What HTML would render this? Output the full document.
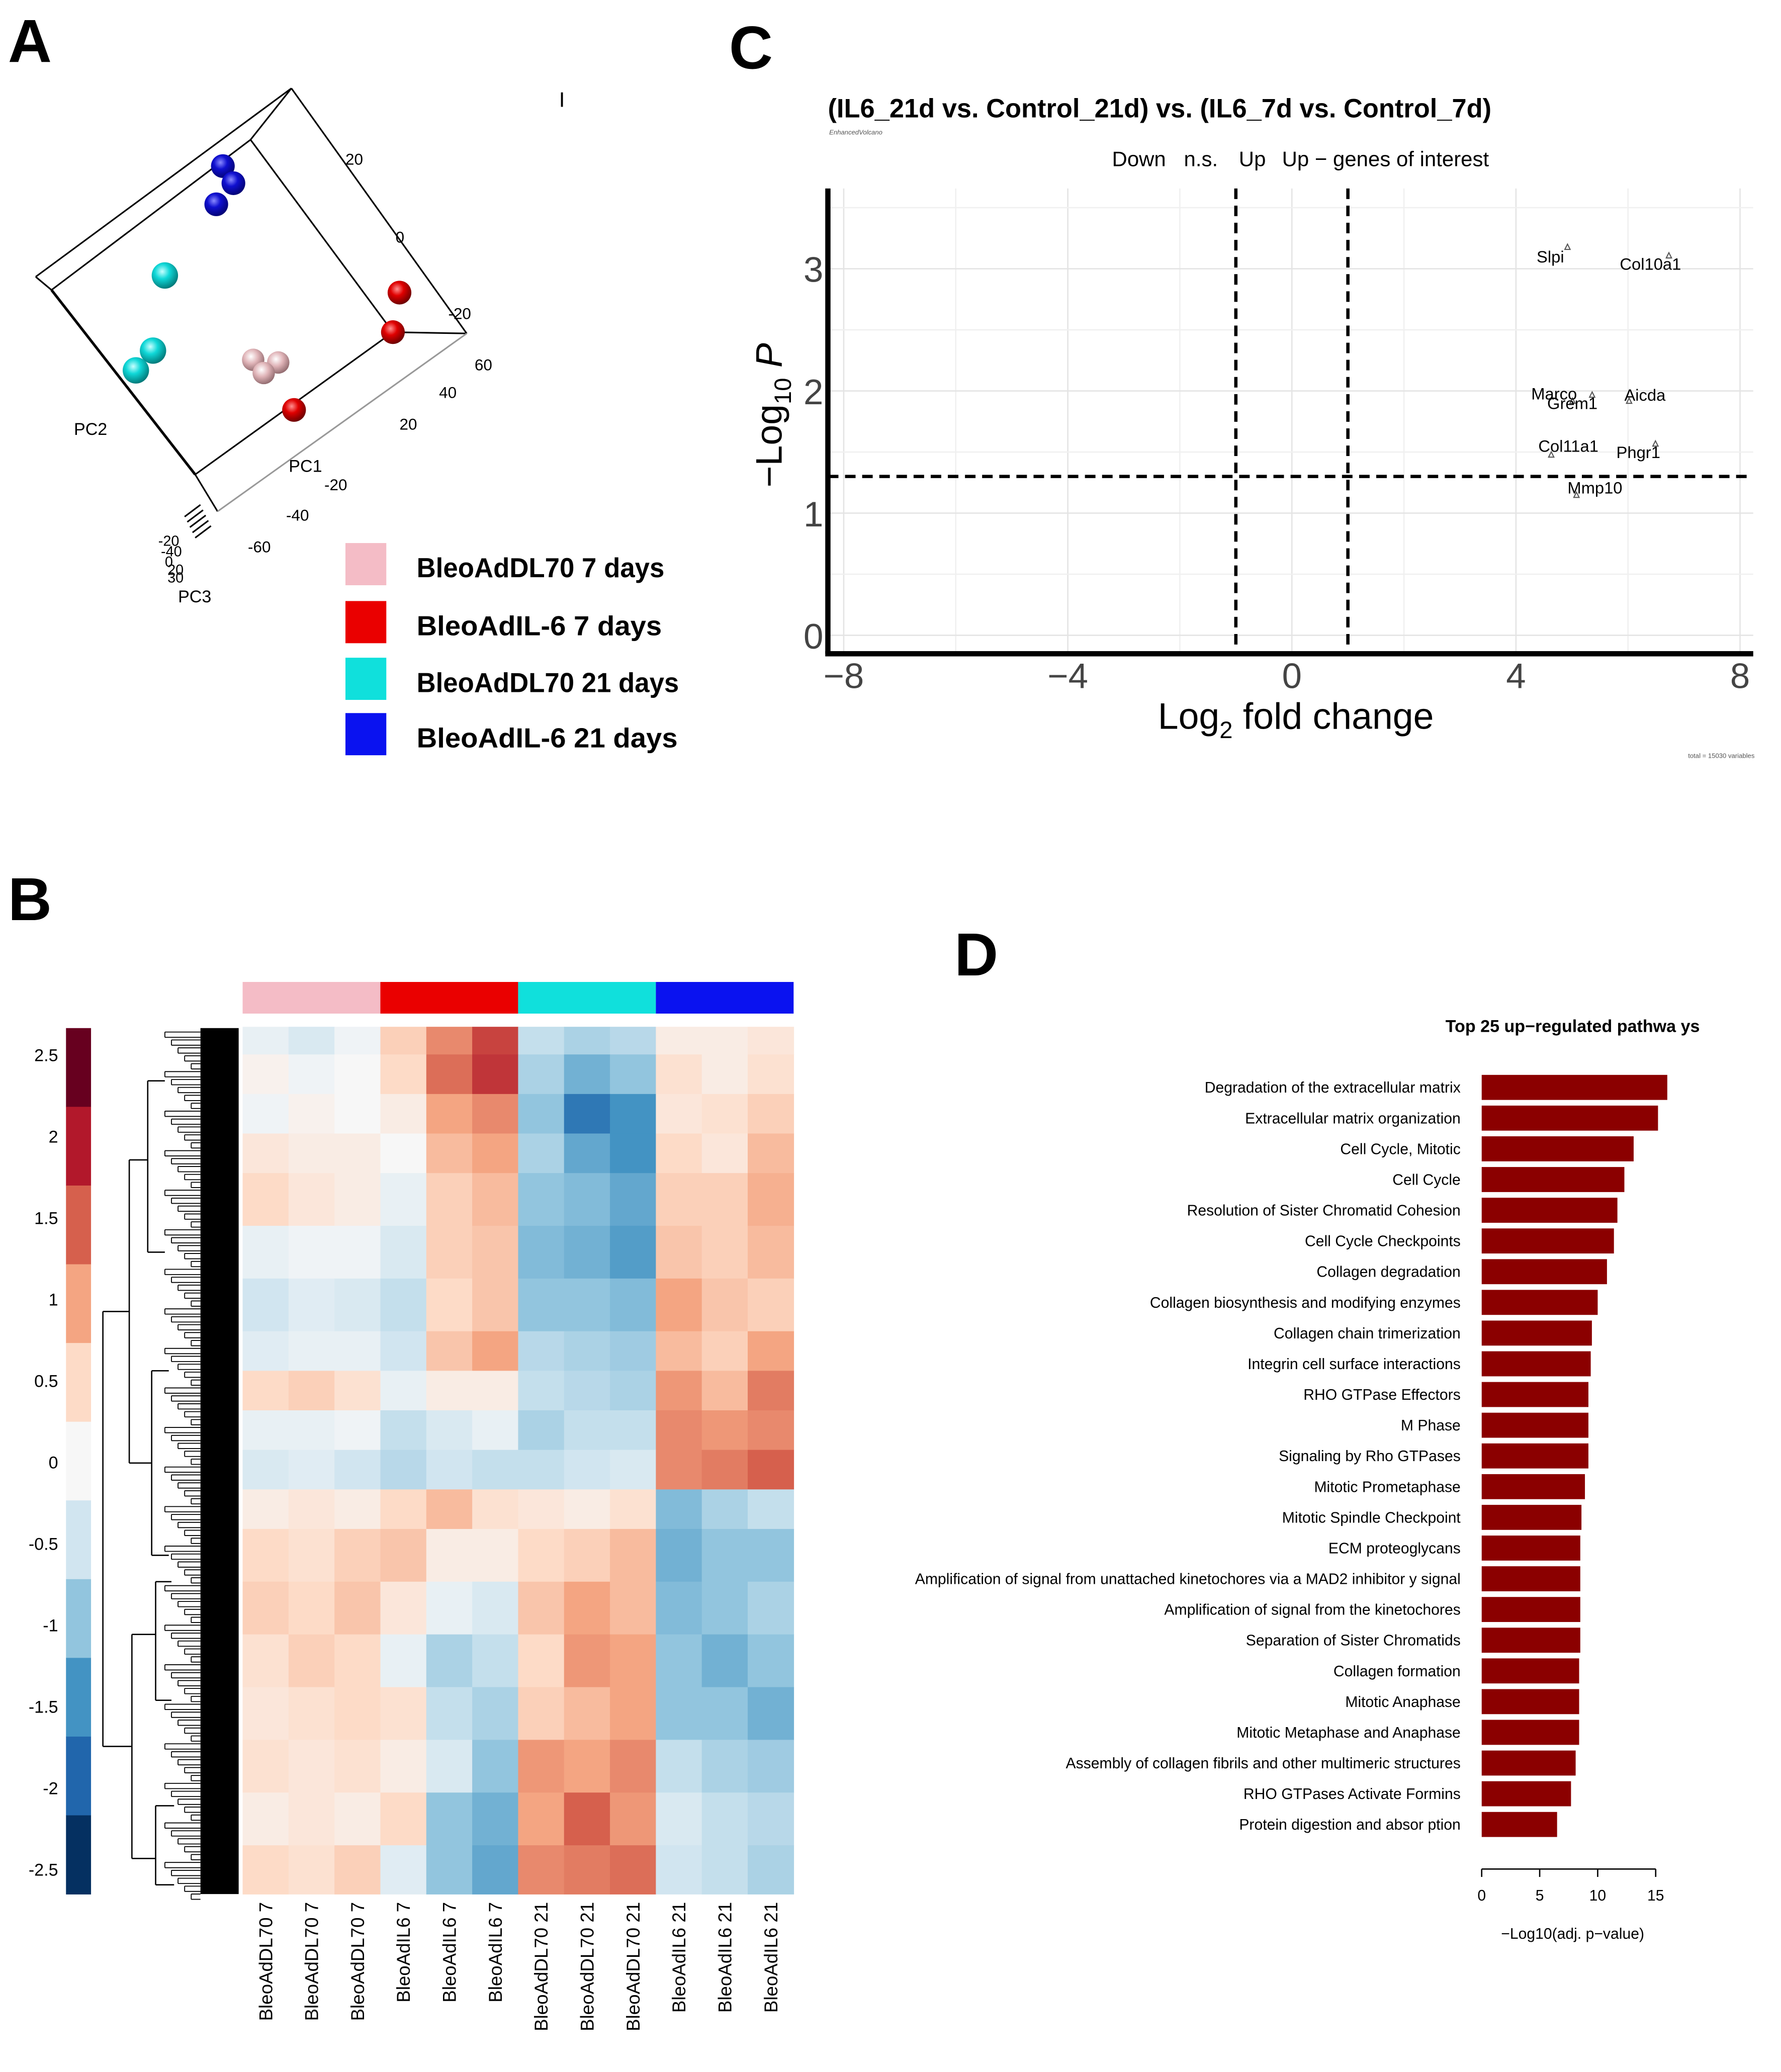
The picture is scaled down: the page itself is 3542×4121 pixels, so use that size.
<!DOCTYPE html>
<html><head><meta charset="utf-8"><style>
html,body{margin:0;padding:0;background:#fff;}
svg{display:block;font-family:"Liberation Sans",Arial,sans-serif;}
</style></head><body>
<svg id="fig" xmlns="http://www.w3.org/2000/svg" width="3542" height="4121" viewBox="0 0 1351 1572">
<rect width="1351" height="1572" fill="#fff"/>
<text x="6" y="47" font-size="46" font-weight="bold">A</text>
<text x="553" y="52" font-size="46" font-weight="bold">C</text>
<text x="6" y="698" font-size="46" font-weight="bold">B</text>
<text x="724" y="740" font-size="46" font-weight="bold">D</text>

<g id="pca" stroke="#000" stroke-width="1.2" fill="none">
  <line x1="221" y1="67" x2="27" y2="210"/>
  <line x1="27" y1="210" x2="39" y2="220"/>
  <line x1="39" y1="220" x2="148" y2="360" stroke-width="2"/>
  <line x1="148" y1="360" x2="165" y2="388"/>
  <line x1="148" y1="360" x2="298" y2="252"/>
  <line x1="298" y1="252" x2="354" y2="253"/>
  <line x1="190" y1="106" x2="298" y2="252"/>
  <line x1="39" y1="220" x2="190" y2="106"/>
  <line x1="190" y1="106" x2="221" y2="67"/>
  <line x1="221" y1="67" x2="354" y2="253"/>
  <line x1="354" y1="253" x2="165" y2="388" stroke="#999"/>
  <line x1="140" y1="392" x2="152" y2="383"/><line x1="142" y1="396" x2="154" y2="387"/><line x1="144" y1="400" x2="156" y2="391"/><line x1="146" y1="404" x2="158" y2="395"/><line x1="148" y1="408" x2="160" y2="399"/>
</g>
<defs>
  <radialGradient id="gBlue" cx="0.4" cy="0.35" r="0.7"><stop offset="0" stop-color="#8a8aff"/><stop offset="0.4" stop-color="#1010d0"/><stop offset="1" stop-color="#00006a"/></radialGradient>
  <radialGradient id="gCyan" cx="0.4" cy="0.35" r="0.7"><stop offset="0" stop-color="#c8ffff"/><stop offset="0.4" stop-color="#10d8d8"/><stop offset="1" stop-color="#007070"/></radialGradient>
  <radialGradient id="gPink" cx="0.4" cy="0.35" r="0.7"><stop offset="0" stop-color="#fff"/><stop offset="0.45" stop-color="#e0b4b8"/><stop offset="1" stop-color="#8a6468"/></radialGradient>
  <radialGradient id="gRed" cx="0.4" cy="0.35" r="0.7"><stop offset="0" stop-color="#ff9090"/><stop offset="0.4" stop-color="#e00000"/><stop offset="1" stop-color="#600000"/></radialGradient>
</defs>
<g id="pca-points"></g>
<g font-size="12" fill="#000">
  <text x="262" y="125">20</text><text x="300" y="184">0</text><text x="340" y="242">-20</text>
  <text x="360" y="281">60</text><text x="333" y="302">40</text><text x="303" y="326">20</text>
  <text x="246" y="372">-20</text><text x="217" y="395">-40</text><text x="188" y="419">-60</text>
  <text x="120" y="414" font-size="11">-20</text><text x="122" y="422" font-size="11">-40</text><text x="125" y="430" font-size="11">0</text><text x="127" y="436" font-size="11">20</text><text x="127" y="442" font-size="11">30</text>
  <text x="56" y="330" font-size="13">PC2</text><text x="219" y="358" font-size="13">PC1</text><text x="135" y="457" font-size="13">PC3</text>
  <text x="424" y="81" font-size="16">I</text>
</g>
<g id="pca-legend" font-size="21" font-weight="bold"></g>
<g id="volcano"></g>
<g id="heatmap"></g>
<g id="barchart"></g>
</svg>
<script>
const pcaGroups = ["BleoAdDL70 7 days","BleoAdIL-6 7 days","BleoAdDL70 21 days","BleoAdIL-6 21 days"];
const pcaGroupColors = ["#f4bcc6","#ea0000","#10e0dc","#0a12f0"];
const pcaPointX = [192,211,200, 303,298,223, 125,116,103, 169,177,164];
const pcaPointY = [273,275,283, 222,252,311, 209,266,281, 126,139,155];
const pcaPointGroup = [0,0,0, 1,1,1, 2,2,2, 3,3,3];

const volcanoGenes = ["Slpi","Col10a1","Marco","Grem1","Aicda","Col11a1","Phgr1","Mmp10"];
const volcanoLogFC = [4.92, 6.73, 5.01, 5.36, 6.02, 4.63, 6.49, 5.08];
const volcanoLogP = [3.18, 3.11, 1.92, 1.97, 1.92, 1.48, 1.57, 1.15];
const volcanoXTicks = [-8,-4,0,4,8];
const volcanoYTicks = [0,1,2,3];
const labelDX = [-13,-14,-14,-15,12,13,-13,14];
const labelDY = [12,11,-1,11,0,-2,11,-1];

const heatCols = ["BleoAdDL70 7","BleoAdDL70 7","BleoAdDL70 7","BleoAdIL6 7","BleoAdIL6 7","BleoAdIL6 7","BleoAdDL70 21","BleoAdDL70 21","BleoAdDL70 21","BleoAdIL6 21","BleoAdIL6 21","BleoAdIL6 21"];
const heatBandStart = [0,21,51,81,111,151,191,231,261,291,321,351,381,421,461,501,541,581,621];
const heatBandValues = [
 [-0.2,-0.4,-0.1, 0.6,1.2,1.7, -0.6,-0.8,-0.7, 0.2,0.2,0.3],
 [0.1,-0.1,0, 0.5,1.4,1.8, -0.8,-1.2,-1.0, 0.4,0.2,0.4],
 [-0.1,0.1,0, 0.2,1.0,1.2, -1.0,-1.8,-1.5, 0.3,0.4,0.6],
 [0.3,0.2,0.2, 0,0.8,1.0, -0.8,-1.3,-1.5, 0.5,0.3,0.8],
 [0.5,0.3,0.2, -0.2,0.6,0.8, -1.0,-1.1,-1.3, 0.6,0.6,0.9],
 [-0.2,-0.1,-0.1, -0.4,0.6,0.7, -1.1,-1.2,-1.4, 0.7,0.6,0.8],
 [-0.5,-0.3,-0.4, -0.6,0.5,0.7, -1.0,-1.0,-1.1, 1.0,0.7,0.6],
 [-0.3,-0.2,-0.2, -0.5,0.7,1.0, -0.7,-0.8,-0.9, 0.8,0.6,1.0],
 [0.5,0.6,0.4, -0.2,0.2,0.2, -0.6,-0.7,-0.8, 1.1,0.8,1.3],
 [-0.2,-0.2,-0.1, -0.6,-0.4,-0.2, -0.8,-0.6,-0.6, 1.2,1.1,1.2],
 [-0.4,-0.3,-0.5, -0.7,-0.5,-0.6, -0.6,-0.5,-0.4, 1.2,1.3,1.5],
 [0.2,0.3,0.2, 0.5,0.8,0.4, 0.3,0.2,0.4, -1.1,-0.8,-0.6],
 [0.5,0.4,0.6, 0.7,0.2,0.2, 0.5,0.6,0.8, -1.2,-1.0,-1.0],
 [0.6,0.5,0.7, 0.3,-0.2,-0.4, 0.7,1.0,0.8, -1.1,-1.0,-0.8],
 [0.4,0.6,0.5, -0.2,-0.8,-0.6, 0.5,1.1,1.0, -1.0,-1.2,-1.0],
 [0.3,0.4,0.5, 0.4,-0.6,-0.8, 0.6,0.8,1.0, -1.0,-1.0,-1.2],
 [0.4,0.3,0.4, 0.2,-0.4,-1.0, 1.1,1.0,1.2, -0.6,-0.8,-0.9],
 [0.2,0.3,0.2, 0.5,-1.0,-1.2, 1.0,1.5,1.1, -0.4,-0.6,-0.7],
 [0.5,0.4,0.6, -0.3,-1.0,-1.3, 1.2,1.3,1.4, -0.5,-0.6,-0.8]
];
const heatTotalRows = 658;
const colorbarTicks = [2.5,2,1.5,1,0.5,0,-0.5,-1,-1.5,-2,-2.5];
const colorbarColors = ["#67001F","#B2182B","#D6604D","#F4A582","#FDDBC7","#F7F7F7","#D1E5F0","#92C5DE","#4393C3","#2166AC","#053061"];

const pathways = ["Degradation of the extracellular matrix","Extracellular matrix organization","Cell Cycle, Mitotic","Cell Cycle","Resolution of Sister Chromatid Cohesion","Cell Cycle Checkpoints","Collagen degradation","Collagen biosynthesis and modifying enzymes","Collagen chain trimerization","Integrin cell surface interactions","RHO GTPase Effectors","M Phase","Signaling by Rho GTPases","Mitotic Prometaphase","Mitotic Spindle Checkpoint","ECM proteoglycans","Amplification  of signal from unattached  kinetochores via a MAD2  inhibitor y signal","Amplification of signal from the kinetochores","Separation of Sister Chromatids","Collagen formation","Mitotic Anaphase","Mitotic Metaphase and Anaphase","Assembly of collagen fibrils and other multimeric structures","RHO GTPases Activate Formins","Protein digestion and absor ption"];
const pathwayValues = [16.0,15.2,13.1,12.3,11.7,11.4,10.8,10.0,9.5,9.4,9.2,9.2,9.2,8.9,8.6,8.5,8.5,8.5,8.5,8.4,8.4,8.4,8.1,7.7,6.5];
const barTicks = [0,5,10,15];

const NS="http://www.w3.org/2000/svg";
function mk(tag, parent, attrs, text){
  const e=document.createElementNS(NS,tag);
  for(const k in attrs) e.setAttribute(k,attrs[k]);
  if(text!==undefined) e.textContent=text;
  parent.appendChild(e); return e;
}

const grads=["url(#gPink)","url(#gRed)","url(#gCyan)","url(#gBlue)"];
const pg=document.getElementById('pca-points');
pcaPointX.forEach((x,i)=>{
  const r = pcaPointGroup[i]===2?10:(pcaPointGroup[i]===0?8.5:9);
  const c=mk('circle',pg,{cx:x,cy:pcaPointY[i],r:r,fill:grads[pcaPointGroup[i]]});
  
  
});
const pl=document.getElementById('pca-legend');
pcaGroups.forEach((g,i)=>{
  const y=[412,456,499,541][i];
  const r=mk('rect',pl,{x:262,y:y,width:31,height:32,fill:pcaGroupColors[i]});
  
  
  const tt=mk('text',pl,{x:316,y:y+26,textLength:[188,186,199,198][i],lengthAdjust:'spacingAndGlyphs'},g);
  
  
});

const vg=document.getElementById('volcano');
const vx=v=>980+v*42.5, vy=v=>482-v*92.7;
const vLeft=628,vRight=1330,vTop=143,vBottom=496;
[-6,-2,2,6].forEach(v=>mk('line',vg,{x1:vx(v),y1:vTop,x2:vx(v),y2:vBottom,stroke:'#f0f0f0','stroke-width':1}));
volcanoXTicks.forEach(v=>mk('line',vg,{x1:vx(v),y1:vTop,x2:vx(v),y2:vBottom,stroke:'#e4e4e4','stroke-width':1}));
[0.5,1.5,2.5,3.5].forEach(v=>mk('line',vg,{x1:vLeft,y1:vy(v),x2:vRight,y2:vy(v),stroke:'#f0f0f0','stroke-width':1}));
volcanoYTicks.forEach(v=>mk('line',vg,{x1:vLeft,y1:vy(v),x2:vRight,y2:vy(v),stroke:'#e4e4e4','stroke-width':1}));
mk('line',vg,{x1:vLeft,y1:vTop,x2:vLeft,y2:vBottom,stroke:'#000','stroke-width':4});
mk('line',vg,{x1:vLeft-2,y1:vBottom,x2:vRight,y2:vBottom,stroke:'#000','stroke-width':4});
mk('line',vg,{x1:vx(-1),y1:vTop,x2:vx(-1),y2:vBottom,stroke:'#000','stroke-width':2.5,'stroke-dasharray':'8,5'});
mk('line',vg,{x1:vx(1),y1:vTop,x2:vx(1),y2:vBottom,stroke:'#000','stroke-width':2.5,'stroke-dasharray':'8,5'});
mk('line',vg,{x1:vLeft,y1:vy(1.3),x2:vRight,y2:vy(1.3),stroke:'#000','stroke-width':2.5,'stroke-dasharray':'8,5'});
volcanoXTicks.forEach(v=>{const tt=mk('text',vg,{x:vx(v),y:522,'font-size':27,'text-anchor':'middle',fill:'#444'},v<0?'\u2212'+(-v):String(v));
  });
volcanoYTicks.forEach(v=>{const tt=mk('text',vg,{x:617,y:vy(v)+10,'font-size':27,'text-anchor':'middle',fill:'#444'},String(v));
  });
volcanoGenes.forEach((g,i)=>{
  const x=vx(volcanoLogFC[i]), y=vy(volcanoLogP[i]);
  const p=mk('path',vg,{d:`M${x-2} ${y+2} L${x} ${y-2} L${x+2} ${y+2}Z`,fill:'none',stroke:'#555','stroke-width':0.8});
  
  const tt=mk('text',vg,{x:x+labelDX[i],y:y+labelDY[i],'font-size':12.5,'text-anchor':'middle'},g);
  
});
let t;
t=mk('text',vg,{x:628,y:89,'font-size':20,'font-weight':'bold'},'(IL6_21d vs. Control_21d) vs. (IL6_7d vs. Control_7d)');

mk('text',vg,{x:629,y:102,'font-size':5,'font-style':'italic',fill:'#555'},'EnhancedVolcano');
[["Down",864],["n.s.",911],["Up",950],["Up \u2212 genes of interest",1051]].forEach(d=>{
  const tt=mk('text',vg,{x:d[1],y:126,'font-size':16,'text-anchor':'middle'},d[0]);
  
});
t=mk('text',vg,{x:983,y:553,'font-size':28,'text-anchor':'middle'});
t.innerHTML='Log<tspan font-size="18" dy="7">2</tspan><tspan dy="-7"> fold change</tspan>';

t=mk('text',vg,{x:0,y:0,'font-size':28,'text-anchor':'middle',transform:'translate(593,315) rotate(-90)'});
t.innerHTML='\u2212Log<tspan font-size="18" dy="7">10</tspan><tspan dy="-7" font-style="italic"> P</tspan>';

mk('text',vg,{x:1331,y:575,'font-size':5,'text-anchor':'end',fill:'#555'},'total = 15030 variables');

const hg=document.getElementById('heatmap');
const hx0=184,hx1=602,hy0=779,hy1=1437;
const cw=(hx1-hx0)/heatCols.length, rowH=(hy1-hy0)/heatTotalRows;
function lerp(a,b,f){return Math.round(a+(b-a)*f);}
function hex(c){return [1,3,5].map(i=>parseInt(c.substr(i,2),16));}
const palStops=[-2.5,-2,-1.5,-1,-0.5,0,0.5,1,1.5,2,2.5];
const palCols=colorbarColors.slice().reverse().map(hex);
function colorFor(v){
  v=Math.max(-2.5,Math.min(2.5,v));
  for(let i=0;i<palStops.length-1;i++){
    if(v<=palStops[i+1]){const f=(v-palStops[i])/0.5;const a=palCols[i],b=palCols[i+1];
      return `rgb(${lerp(a[0],b[0],f)},${lerp(a[1],b[1],f)},${lerp(a[2],b[2],f)})`;}
  }
  return 'rgb(103,0,31)';
}
heatBandValues.forEach((row,bi)=>{
  const s=heatBandStart[bi], e=bi+1<heatBandStart.length?heatBandStart[bi+1]:heatTotalRows;
  row.forEach((v,ci)=>{
    const r=mk('rect',hg,{x:hx0+ci*cw,y:hy0+s*rowH,width:cw+0.3,height:(e-s)*rowH+0.3,fill:colorFor(v)});
    
    
  });
});
const annCols=["#f4bcc6","#ea0000","#10e0dc","#0a12f0"];
annCols.forEach((c,i)=>{
  const r=mk('rect',hg,{x:hx0+i*3*cw,y:745,width:3*cw,height:24,fill:c});
  
  
});
heatCols.forEach((c,i)=>{
  const x=hx0+(i+0.5)*cw+5;
  const tl=mk('text',hg,{x:0,y:0,'font-size':14,'text-anchor':'end',transform:`translate(${x},1443) rotate(-90)`},c);
  
  
});
colorbarColors.forEach((c,i)=>{
  const h=(1437-780)/colorbarColors.length;
  const r=mk('rect',hg,{x:50,y:780+i*h,width:19,height:h+0.3,fill:c});
  
  
});
colorbarTicks.forEach((v,i)=>{
  const y=800+i*61.8;
  const tl=mk('text',hg,{x:44,y:y+5,'font-size':13,'text-anchor':'end'},String(v));
  
  
});
const dg=mk('g',hg,{stroke:'#000','stroke-width':1,fill:'none'});


mk('rect',dg,{x:152,y:780,width:29,height:657,fill:'#000',stroke:'none'});
mk('path',dg,{d:'M78 995 L78 1325 M78 995 L98 995 M78 1325 L100 1325 M98 880 L98 1110 M98 880 L112 880 M98 1110 L115 1110 M100 1240 L100 1410 M100 1240 L118 1240 M100 1410 L118 1410 M112 820 L112 950 M112 820 L125 820 M112 950 L125 950 M115 1040 L115 1180 M115 1040 L128 1040 M115 1180 L128 1180 M118 1200 L118 1290 M118 1200 L130 1200 M118 1290 L130 1290 M118 1370 L118 1430 M118 1370 L132 1370 M118 1430 L132 1430'});
for(let i=0;i<110;i++){
  const y=783+i*6;
  const x0=125+(i%5)*5;
  mk('path',dg,{d:`M${x0} ${y} L${x0} ${y+4} M${x0} ${y} L152 ${y} M${x0} ${y+4} L152 ${y+4}`,'stroke-width':0.7});
}

const bg=document.getElementById('barchart');
const bx=v=>1124+v*8.8;
t=mk('text',bg,{x:1193,y:783,'font-size':13,'font-weight':'bold','text-anchor':'middle'},'Top 25 up\u2212regulated pathwa ys');

pathways.forEach((p,i)=>{
  const yc=825+i*23.3;
  const r=mk('rect',bg,{x:bx(0),y:yc-9.5,width:bx(pathwayValues[i])-bx(0),height:19,fill:'#8b0000'});
  
  
  const tl=mk('text',bg,{x:1108,y:yc+4,'font-size':11.5,'text-anchor':'end'},p);
  
  
});
mk('line',bg,{x1:bx(0),y1:1418,x2:bx(15),y2:1418,stroke:'#000','stroke-width':1});
barTicks.forEach(v=>{
  mk('line',bg,{x1:bx(v),y1:1418,x2:bx(v),y2:1424,stroke:'#000','stroke-width':1});
  const tl=mk('text',bg,{x:bx(v),y:1442,'font-size':11.5,'text-anchor':'middle'},String(v));
  
  
});
t=mk('text',bg,{x:1193,y:1471,'font-size':11.5,'text-anchor':'middle'},'\u2212Log10(adj. p\u2212value)');

</script>
</body></html>
